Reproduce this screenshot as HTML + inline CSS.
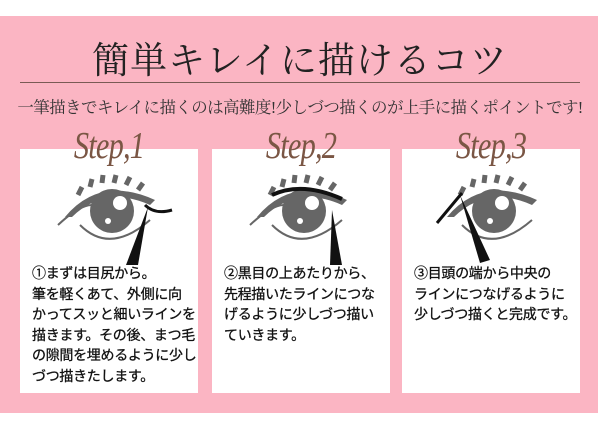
<!DOCTYPE html>
<html><head><meta charset="utf-8"><style>
body{margin:0;width:600px;height:429px;background:#fff;position:relative;overflow:hidden;font-family:"Liberation Sans","Noto Sans CJK JP",sans-serif}
.pink{position:absolute;left:0;top:16px;width:598px;height:397px;background:#fbb5c3}
.title{position:absolute;left:0;width:600px;top:30px;text-align:center;font-family:"Liberation Serif","Noto Serif CJK SC",serif;font-size:37px;color:#222;letter-spacing:1px}
.line{position:absolute;left:20px;top:82px;width:560px;height:1px;background:#7a5a55}
.sub{position:absolute;left:0;width:600px;top:94px;text-align:center;font-family:"Liberation Serif","Noto Serif CJK SC",serif;font-size:16.5px;color:#333;letter-spacing:-0.6px;white-space:nowrap}
.card{position:absolute;top:149px;width:178px;height:244px;background:#fff}
.step{position:absolute;top:124px;width:178px;text-align:center;font-family:"Liberation Serif",serif;font-style:italic;font-size:38px;color:#7a5644;transform:scaleX(.8);letter-spacing:-1px}
.txt{position:absolute;top:263px;font-size:14px;line-height:20.5px;color:#111;letter-spacing:-0.3px;-webkit-text-stroke:0.3px #111}
svg{position:absolute;top:165px}
</style></head><body>
<div class="pink"></div>
<div class="title">簡単キレイに描けるコツ</div>
<div class="line"></div>
<div class="sub">一筆描きでキレイに描くのは高難度!少しづつ描くのが上手に描くポイントです!</div>
<div class="card" style="left:20px"></div>
<div class="card" style="left:212px"></div>
<div class="card" style="left:402px"></div>
<div class="step" style="left:20px">Step,1</div>
<div class="step" style="left:212px">Step,2</div>
<div class="step" style="left:402px">Step,3</div>

<svg style="left:50px" width="130" height="100" viewBox="0 0 130 100">
<path d="M15 52 Q50 10 105 35 L100 40 Q55 20 22 52Z" fill="#666"/>
<path d="M8 60 Q40 30 52 45" stroke="#666" stroke-width="2" fill="none"/>
<path d="M30 60 Q60 90 100 55" stroke="#666" stroke-width="2" fill="none"/>
<circle cx="62" cy="46" r="22" fill="#666"/>
<circle cx="70" cy="38" r="7" fill="#fff"/><circle cx="58" cy="56" r="3" fill="#fff"/>
<path d="M28 30 L32 22 M40 22 L42 14 M52 18 L53 10 M64 18 L66 10 M76 20 L80 12 M88 25 L93 18" stroke="#666" stroke-width="5"/>
<path d="M95 40 Q105 50 122 45" stroke="#111" stroke-width="3" fill="none"/>
<path d="M98 42 L88 100 L76 100Z" fill="#111"/>
</svg>
<svg style="left:242px" width="130" height="100" viewBox="0 0 130 100">
<path d="M15 52 Q50 10 105 35 L100 40 Q55 20 22 52Z" fill="#666"/>
<path d="M8 60 Q40 30 52 45" stroke="#666" stroke-width="2" fill="none"/>
<path d="M30 60 Q60 90 100 55" stroke="#666" stroke-width="2" fill="none"/>
<circle cx="62" cy="46" r="22" fill="#666"/>
<circle cx="70" cy="38" r="7" fill="#fff"/><circle cx="58" cy="56" r="3" fill="#fff"/>
<path d="M28 30 L32 22 M40 22 L42 14 M52 18 L53 10 M64 18 L66 10 M76 20 L80 12 M88 25 L93 18" stroke="#666" stroke-width="5"/>
<path d="M30 30 Q60 16 100 34" stroke="#111" stroke-width="4" fill="none"/>
<path d="M90 45 L100 100 L88 100Z" fill="#111"/>
</svg>
<svg style="left:432px" width="130" height="100" viewBox="0 0 130 100">
<path d="M15 52 Q50 10 105 35 L100 40 Q55 20 22 52Z" fill="#666"/>
<path d="M30 60 Q60 90 100 55" stroke="#666" stroke-width="2" fill="none"/>
<circle cx="62" cy="46" r="22" fill="#666"/>
<circle cx="70" cy="38" r="7" fill="#fff"/><circle cx="58" cy="56" r="3" fill="#fff"/>
<path d="M28 30 L32 22 M40 22 L42 14 M52 18 L53 10 M64 18 L66 10 M76 20 L80 12 M88 25 L93 18" stroke="#666" stroke-width="5"/>
<path d="M5 58 L30 28" stroke="#111" stroke-width="3"/>
<path d="M28 30 L58 95 L48 98Z" fill="#111"/>
</svg>

<div class="txt" style="left:32px">①まずは目尻から。<br>筆を軽くあて、外側に向<br>かってスッと細いラインを<br>描きます。その後、まつ毛<br>の隙間を埋めるように少し<br>づつ描きたします。</div>
<div class="txt" style="left:224px">②黒目の上あたりから、<br>先程描いたラインにつな<br>げるように少しづつ描い<br>ていきます。</div>
<div class="txt" style="left:414px">③目頭の端から中央の<br>ラインにつなげるように<br>少しづつ描くと完成です。</div>
</body></html>
